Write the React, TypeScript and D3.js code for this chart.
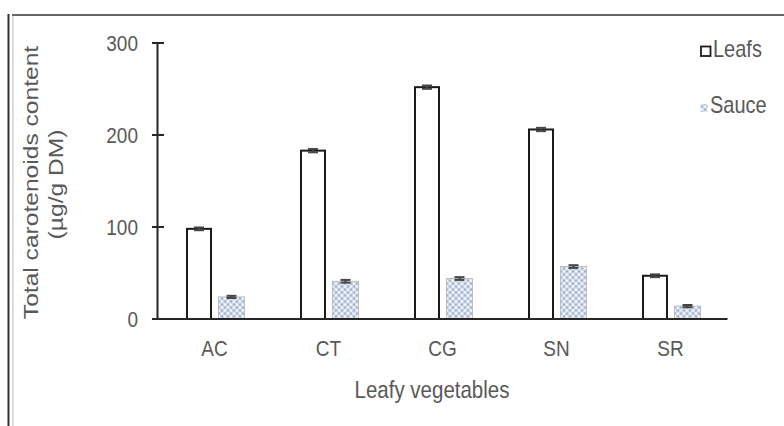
import React from "react";
import * as d3 from "d3";

// Leafy vegetables and their total carotenoid content (µg/g DM)
const categories = ["AC", "CT", "CG", "SN", "SR"];
const leafsValues = [98, 183, 252, 206, 47];
const sauceValues = [24, 41, 44, 57, 14];
const leafsErrors = [1.5, 1.8, 1.8, 1.8, 1.5];
const sauceErrors = [1.2, 1.5, 1.5, 1.5, 1.2];
const yTicks = [0, 100, 200, 300];
const seriesNames = ["Leafs", "Sauce"];

const W = 784;
const H = 426;
const FONT = "'Liberation Sans', Arial, Helvetica, sans-serif";
const TEXT = "#595959";
const AXIS = "#262626";
const SY = 1.2; // vertical stretch of the lettering

const x = d3.scaleBand<string>().domain(categories).range([157.5, 727.5]);
const y = d3.scaleLinear().domain([0, 300]).range([319, 43]);

function ErrorBar({ cx, v, e }: { cx: number; v: number; e: number }) {
  const hi = y(v + e);
  const lo = y(v - e);
  return (
    <g stroke="#474747" strokeWidth={2}>
      <line x1={cx} x2={cx} y1={hi} y2={lo} />
      <line x1={cx - 5} x2={cx + 5} y1={hi} y2={hi} />
      <line x1={cx - 5} x2={cx + 5} y1={lo} y2={lo} />
    </g>
  );
}

export default function App() {
  const half = x.bandwidth() / 2;
  return (
    <svg
      width={W}
      height={H}
      style={{ position: "absolute", left: 0, top: 0, background: "#fff" }}
      fontFamily={FONT}
    >
      <defs>
        <pattern id="sauceFill" width={6} height={6} patternUnits="userSpaceOnUse">
          <rect width={6} height={6} fill="#d3dcea" />
          <path d="M3,0 L4.4,1.5 L3,3 L1.6,1.5 Z M0,3 L1.4,4.5 L0,6 Z M6,3 L4.6,4.5 L6,6 Z" fill="#9fb2cf" />
          <circle cx={3} cy={4.5} r={1} fill="#ffffff" />
          <circle cx={0} cy={1.5} r={1} fill="#ffffff" />
          <circle cx={6} cy={1.5} r={1} fill="#ffffff" />
        </pattern>
      </defs>

      {/* frame edges */}
      <line x1={8.5} x2={8.5} y1={14} y2={H} stroke="#333" strokeWidth={2} />
      <line x1={13} x2={13} y1={16} y2={H} stroke="#cfcfcf" strokeWidth={1.5} />
      <line x1={12} x2={W} y1={15} y2={15} stroke="#333" strokeWidth={1.5} />

      {/* bars */}
      {categories.map((c, i) => {
        const cx = (x(c) as number) + half;
        const lx = cx - 27.5;
        const sx = cx + 4;
        return (
          <g key={c}>
            <rect
              x={lx}
              y={y(leafsValues[i])}
              width={24}
              height={y(0) - y(leafsValues[i])}
              fill="#fff"
              stroke="#1a1a1a"
              strokeWidth={2}
            />
            <rect
              x={sx}
              y={y(sauceValues[i])}
              width={26}
              height={y(0) - y(sauceValues[i])}
              fill="url(#sauceFill)"
              stroke="#b4b4b4"
              strokeWidth={0.8}
            />
            <ErrorBar cx={lx + 12} v={leafsValues[i]} e={leafsErrors[i]} />
            <ErrorBar cx={sx + 13} v={sauceValues[i]} e={sauceErrors[i]} />
            <text
              transform={`translate(${cx},${356}) scale(1,${SY})`}
              textAnchor="middle"
              fontSize={19}
              fill={TEXT}
            >
              {c}
            </text>
          </g>
        );
      })}

      {/* y axis */}
      <line x1={x.range()[0]} x2={x.range()[0]} y1={y(300)} y2={y(0)} stroke={AXIS} strokeWidth={2} />
      {yTicks.map((t) => (
        <g key={t}>
          <line x1={152} x2={164} y1={y(t)} y2={y(t)} stroke={AXIS} strokeWidth={2} />
          <text
            transform={`translate(138,${y(t) + 8}) scale(1,${SY})`}
            textAnchor="end"
            fontSize={19}
            fill={TEXT}
          >
            {t}
          </text>
        </g>
      ))}

      {/* x axis */}
      <line x1={x.range()[0]} x2={x.range()[1]} y1={y(0)} y2={y(0)} stroke={AXIS} strokeWidth={2} />

      {/* axis titles */}
      <text
        transform={`translate(432,398) scale(1,${SY})`}
        textAnchor="middle"
        fontSize={20.5}
        fill={TEXT}
      >
        Leafy vegetables
      </text>
      <text
        transform={`translate(38,182.5) scale(1,${SY}) rotate(-90)`}
        textAnchor="middle"
        fontSize={20.5}
        fill={TEXT}
      >
        Total carotenoids content
      </text>
      <text
        transform={`translate(63,184.5) scale(1,${SY}) rotate(-90)`}
        textAnchor="middle"
        fontSize={20.5}
        fill={TEXT}
      >
        (µg/g DM)
      </text>

      {/* legend */}
      <rect x={701} y={46.5} width={9.5} height={9.5} fill="#fff" stroke="#1a1a1a" strokeWidth={1.8} />
      <text transform={`translate(713,57) scale(1,${SY})`} fontSize={20} fill={TEXT}>
        {seriesNames[0]}
      </text>
      <rect x={700.5} y={104} width={7} height={8} fill="url(#sauceFill)" />
      <text transform={`translate(710,113) scale(1,${SY})`} fontSize={20} fill={TEXT}>
        {seriesNames[1]}
      </text>
    </svg>
  );
}
